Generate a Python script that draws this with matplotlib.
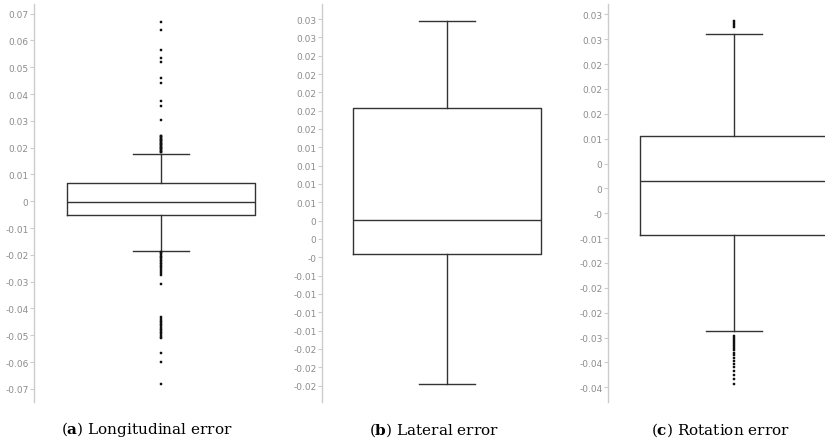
import numpy as np
import matplotlib
matplotlib.use("Agg")
import matplotlib.pyplot as plt

plt.rcParams["mathtext.fontset"] = "dejavuserif"

# box statistics (q1, median, q3, whiskers)
long_stats = dict(q1=-0.0051, med=-0.0003, q3=0.0068, whislo=-0.0187, whishi=0.0178)
lat_stats = dict(q1=-0.0045, med=0.0001, q3=0.0153, whislo=-0.0223, whishi=0.0272)
rot_stats = dict(q1=-0.0094, med=0.0014, q3=0.0106, whislo=-0.0286, whishi=0.0311)

# outliers
long_fliers = [0.0670, 0.0640, 0.0565, 0.0534, 0.0520, 0.0459, 0.0443, 0.0375, 0.0357, 0.0302,
               0.0245, 0.0242, 0.0239, 0.0236, 0.0233, 0.0230, 0.0227, 0.0224, 0.0221, 0.0218,
               0.0215, 0.0212, 0.0209, 0.0206, 0.0203, 0.0200, 0.0197, 0.0194, 0.0191, 0.0188,
               0.0185, 0.0182,
               -0.0190, -0.0194, -0.0198, -0.0203, -0.0208, -0.0213, -0.0218, -0.0223, -0.0229,
               -0.0235, -0.0241, -0.0247, -0.0253, -0.0259, -0.0266, -0.0275, -0.0310,
               -0.0433, -0.0439, -0.0445, -0.0451, -0.0457, -0.0463, -0.0469, -0.0475, -0.0481,
               -0.0487, -0.0493, -0.0499, -0.0505, -0.0512, -0.0565, -0.0599, -0.0683]
lat_fliers = []
rot_fliers = [0.0336, 0.0332, 0.0328, 0.0324,
              -0.0296, -0.0300, -0.0304, -0.0308, -0.0312, -0.0316, -0.0320, -0.0325, -0.0330,
              -0.0335, -0.0341, -0.0347, -0.0353, -0.0360, -0.0367, -0.0375, -0.0384, -0.0394]

# y ticks and their (rounded) labels as shown
long_ticks = [0.07, 0.06, 0.05, 0.04, 0.03, 0.02, 0.01, 0, -0.01, -0.02, -0.03, -0.04, -0.05, -0.06, -0.07]
long_labels = ["0.07", "0.06", "0.05", "0.04", "0.03", "0.02", "0.01", "0",
               "-0.01", "-0.02", "-0.03", "-0.04", "-0.05", "-0.06", "-0.07"]
lat_ticks = list(np.arange(0.0275, -0.0226, -0.0025))
lat_labels = ["0.03", "0.03", "0.02", "0.02", "0.02", "0.02", "0.02", "0.01", "0.01", "0.01", "0.01",
              "0", "0", "-0", "-0.01", "-0.01", "-0.01", "-0.01", "-0.02", "-0.02", "-0.02"]
rot_ticks = list(np.arange(0.035, -0.0401, -0.005))
rot_labels = ["0.03", "0.03", "0.02", "0.02", "0.02", "0.01", "0", "0", "-0",
              "-0.01", "-0.02", "-0.02", "-0.02", "-0.03", "-0.04", "-0.04"]

captions = [("a", " Longitudinal error"), ("b", " Lateral error"), ("c", " Rotation error")]

W, H = 825, 439
fig = plt.figure(figsize=(W / 100, H / 100), dpi=100)

# pixel layout: axis x, axes width, box centre, box width, cap width, ylim, caption centre
panels = [
    dict(ax_x=34, ax_w=246, cx=161, bw=189, capw=56, ylim=(-0.0749, 0.0736), capx=147,
         st=long_stats, fl=long_fliers, ticks=long_ticks, labels=long_labels),
    dict(ax_x=322, ax_w=246, cx=447, bw=188, capw=56, ylim=(-0.02474, 0.02955), capx=434,
         st=lat_stats, fl=lat_fliers, ticks=lat_ticks, labels=lat_labels),
    dict(ax_x=608, ax_w=217, cx=734, bw=189, capw=56, ylim=(-0.04295, 0.03707), capx=720,
         st=rot_stats, fl=rot_fliers, ticks=rot_ticks, labels=rot_labels),
]

y_top, y_bot = 5, 403
line_c = "#333333"
for p, (letter, txt) in zip(panels, captions):
    ax = fig.add_axes([p["ax_x"] / W, (H - y_bot) / H, p["ax_w"] / W, (y_bot - y_top) / H])
    ax.set_xlim(0, p["ax_w"])
    ax.set_ylim(*p["ylim"])
    stats = dict(p["st"])
    stats["fliers"] = p["fl"]
    ax.bxp([stats], positions=[p["cx"] - p["ax_x"]], widths=p["bw"], capwidths=p["capw"],
           boxprops=dict(color=line_c, linewidth=1),
           medianprops=dict(color=line_c, linewidth=1),
           whiskerprops=dict(color=line_c, linewidth=1),
           capprops=dict(color=line_c, linewidth=1),
           flierprops=dict(marker="s", markersize=1.6, markerfacecolor="#111111",
                           markeredgecolor="#111111", markeredgewidth=0.3, linestyle="none"),
           manage_ticks=False)
    for s in ["top", "right", "bottom"]:
        ax.spines[s].set_visible(False)
    ax.spines["left"].set_color("#cccccc")
    ax.spines["left"].set_linewidth(1)
    ax.set_xticks([])
    ax.set_yticks(p["ticks"])
    ax.set_yticklabels(p["labels"])
    ax.tick_params(axis="y", colors="#cccccc", labelcolor="#8c8c8c", labelsize=6.5,
                   length=3, width=0.8, pad=1)
    fig.text(p["capx"] / W, 1 - 430 / H, r"($\mathbf{" + letter + "}$)" + txt,
             ha="center", va="center", fontsize=11, family="DejaVu Serif")

fig.savefig("out.png", dpi=100)
